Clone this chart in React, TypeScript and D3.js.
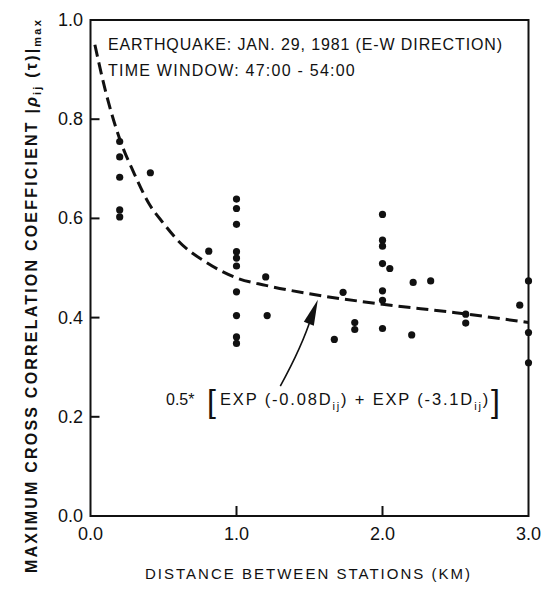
import { useRef, useEffect } from "react";
import * as d3 from "d3";

// station distance (km) and max cross-correlation
const distances = [
  0.2, 0.2, 0.2, 0.2, 0.2, 0.41, 0.81,
  1.0, 1.0, 1.0, 1.0, 1.0, 1.0, 1.0, 1.0, 1.0, 1.0,
  1.2, 1.21, 1.67, 1.73, 1.81, 1.81,
  2.0, 2.0, 2.0, 2.0, 2.05, 2.0, 2.0, 2.0,
  2.2, 2.21, 2.33, 2.57, 2.57, 2.94, 3.0, 3.0, 3.0,
];
const coefficients = [
  0.755, 0.724, 0.683, 0.617, 0.603, 0.692, 0.534,
  0.639, 0.62, 0.588, 0.533, 0.52, 0.504, 0.452, 0.404, 0.361, 0.348,
  0.482, 0.404, 0.356, 0.451, 0.39, 0.376,
  0.608, 0.556, 0.544, 0.509, 0.499, 0.454, 0.435, 0.378,
  0.365, 0.471, 0.474, 0.407, 0.389, 0.425, 0.474, 0.37, 0.309,
];

// dashed fitted curve
const curveD = [0.03, 0.1, 0.2, 0.3, 0.4, 0.5, 0.6, 0.8, 1.0, 1.2, 1.5, 2.0, 2.5, 3.0];
const curveR = [0.95, 0.86, 0.76, 0.69, 0.63, 0.59, 0.555, 0.51, 0.48, 0.465, 0.448, 0.427, 0.41, 0.39];

const xTicks = [0, 1, 2, 3];
const yTicks = [0, 0.2, 0.4, 0.6, 0.8, 1.0];

// arrow from the formula to the curve (data coords)
const arrowTail = [1.3, 0.262];
const arrowTip = [1.557, 0.436];

const FONT = "'Liberation Sans', Arial, sans-serif";

// stretch a text element to a given width via letter-spacing
function fit(sel: any, width: number) {
  const node = sel.node() as SVGTextElement;
  const len = node.getComputedTextLength();
  const n = (node.textContent || "").length;
  sel.attr("letter-spacing", (width - len) / n);
}

export default function App() {
  const svgRef = useRef<SVGSVGElement>(null);

  useEffect(() => {
    const svg = d3.select(svgRef.current);
    svg.selectAll("*").remove();

    const x = d3.scaleLinear().domain([0, 3]).range([90.5, 528.5]);
    const y = d3.scaleLinear().domain([0, 1]).range([516, 20]);

    const g = svg.append("g").style("font-family", FONT).attr("fill", "#111");

    // frame
    g.append("rect")
      .attr("x", x(0))
      .attr("y", y(1))
      .attr("width", x(3) - x(0))
      .attr("height", y(0) - y(1))
      .attr("fill", "none")
      .attr("stroke", "#111")
      .attr("stroke-width", 2);

    // inward ticks
    g.selectAll(".xt")
      .data([1, 2])
      .join("line")
      .attr("x1", (d) => x(d))
      .attr("x2", (d) => x(d))
      .attr("y1", y(0))
      .attr("y2", y(0) - 10)
      .attr("stroke", "#111")
      .attr("stroke-width", 2);
    g.selectAll(".yt")
      .data([0.2, 0.4, 0.6, 0.8])
      .join("line")
      .attr("x1", x(0))
      .attr("x2", x(0) + 9)
      .attr("y1", (d) => y(d))
      .attr("y2", (d) => y(d))
      .attr("stroke", "#111")
      .attr("stroke-width", 2);

    // tick labels
    g.append("g")
      .selectAll("text")
      .data(xTicks)
      .join("text")
      .attr("x", (d) => x(d))
      .attr("y", 540)
      .attr("text-anchor", "middle")
      .attr("font-size", 18)
      .text((d) => d.toFixed(1));
    g.append("g")
      .selectAll("text")
      .data(yTicks)
      .join("text")
      .attr("x", 83)
      .attr("y", (d) => y(d) + 6)
      .attr("text-anchor", "end")
      .attr("font-size", 18)
      .text((d) => d.toFixed(1));

    // axis titles
    const xl = g
      .append("text")
      .attr("x", 145)
      .attr("y", 579)
      .attr("font-size", 15)
      .text("DISTANCE BETWEEN STATIONS (KM)");
    fit(xl, 327);

    const yl = g
      .append("text")
      .attr("transform", "translate(37,573) rotate(-90)")
      .attr("font-size", 16)
      .attr("font-weight", "bold");
    yl.append("tspan").text("MAXIMUM CROSS CORRELATION COEFFICIENT |");
    yl.append("tspan").attr("font-style", "italic").text("ρ");
    yl.append("tspan").attr("font-size", 11).attr("dy", 4).text("ij");
    yl.append("tspan").attr("dy", -4).text(" (τ)|");
    yl.append("tspan").attr("font-size", 11).attr("dy", 4).text("max");
    fit(yl, 555);

    // header notes
    const h1 = g
      .append("text")
      .attr("x", 108)
      .attr("y", 50)
      .attr("font-size", 16)
      .text("EARTHQUAKE: JAN. 29, 1981 (E-W DIRECTION)");
    fit(h1, 395);
    const h2 = g
      .append("text")
      .attr("x", 108)
      .attr("y", 76)
      .attr("font-size", 16)
      .text("TIME WINDOW: 47:00 - 54:00");
    fit(h2, 248);

    // dashed fit curve
    const line = d3
      .line<number>()
      .x((_, i) => x(curveD[i]))
      .y((d) => y(d))
      .curve(d3.curveMonotoneX);
    g.append("path")
      .attr("d", line(curveR))
      .attr("fill", "none")
      .attr("stroke", "#111")
      .attr("stroke-width", 3)
      .attr("stroke-dasharray", "12,6");

    // points
    g.append("g")
      .selectAll("circle")
      .data(distances)
      .join("circle")
      .attr("cx", (d) => x(d))
      .attr("cy", (_, i) => y(coefficients[i]))
      .attr("r", 3.6)
      .attr("fill", "#111");

    // arrow
    const tx = x(arrowTip[0]);
    const ty = y(arrowTip[1]);
    const sx = x(arrowTail[0]);
    const sy = y(arrowTail[1]);
    g.append("path")
      .attr("d", `M${sx},${sy} Q${sx + 22},${sy - 40} ${tx - 6},${ty + 16}`)
      .attr("fill", "none")
      .attr("stroke", "#111")
      .attr("stroke-width", 1.6);
    g.append("path")
      .attr("d", `M${tx},${ty} L${tx - 14},${ty + 22} L${tx - 4},${ty + 26} Z`)
      .attr("fill", "#111");

    // formula
    const fy = 405;
    g.append("text")
      .attr("x", 166)
      .attr("y", fy)
      .attr("font-size", 16)
      .text("0.5*");
    g.append("text")
      .attr("x", 207)
      .attr("y", fy + 7)
      .attr("font-size", 32)
      .attr("font-weight", 300)
      .text("[");
    const f = g.append("text").attr("x", 220).attr("y", fy).attr("font-size", 16.5);
    f.append("tspan").text("EXP (-0.08D");
    f.append("tspan").attr("font-size", 11).attr("dy", 5).text("ij");
    f.append("tspan").attr("dy", -5).text(") + EXP (-3.1D");
    f.append("tspan").attr("font-size", 11).attr("dy", 5).text("ij");
    f.append("tspan").attr("dy", -5).text(")");
    fit(f, 270);
    g.append("text")
      .attr("x", 491)
      .attr("y", fy + 7)
      .attr("font-size", 32)
      .attr("font-weight", 300)
      .text("]");
  }, []);

  return (
    <svg
      ref={svgRef}
      width={545}
      height={590}
      style={{ position: "absolute", left: 0, top: 0, background: "#fff" }}
    ></svg>
  );
}
